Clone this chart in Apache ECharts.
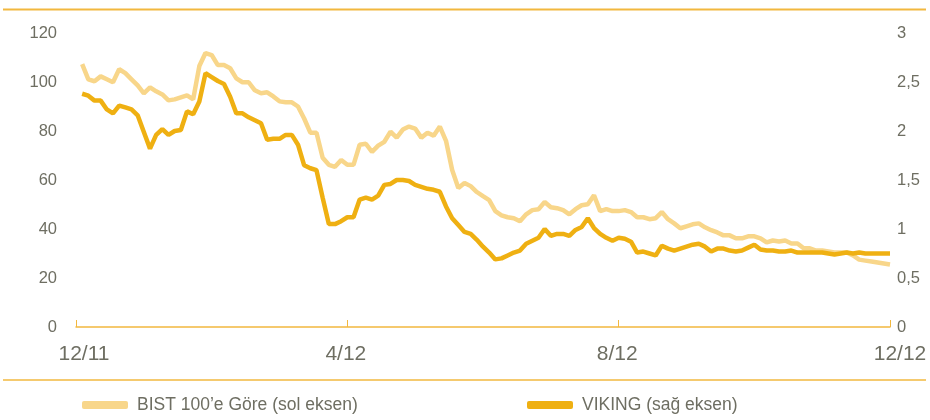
<!DOCTYPE html>
<html>
<head>
<meta charset="utf-8">
<script src="https://cdn.jsdelivr.net/npm/echarts@6/dist/echarts.min.js"></script>
<style>
html,body{margin:0;padding:0;background:#fff;}
#c{width:930px;height:420px;}
</style>
</head>
<body>
<div id="c"></div>
<script>
// Tick labels on the x axis (index in the category list -> label)
const tickIndex = [0, 44, 88, 132];
const tickLabels = ['12/11', '4/12', '8/12', '12/12'];

// BIST 100'e Göre (left axis)
const bist = [null,
107.3,101.1,100.3,102.3,101.1,99.9,105.2,103.6,101.1,98.6,
95.4,97.8,96.2,94.9,92.5,92.9,93.7,94.5,92.9,106.5,
111.8,111.0,106.9,106.9,105.6,101.5,99.9,99.9,96.6,95.4,
95.8,94.1,92.1,91.7,91.7,90.0,85.1,79.3,79.3,69.1,
66.2,65.4,68.2,66.2,66.2,74.4,74.8,71.5,74.0,75.6,
79.7,77.3,80.6,81.8,81.0,77.3,79.3,78.1,81.8,76.0,
64.1,56.7,58.8,57.5,55.1,53.4,51.8,47.3,45.6,44.8,
44.4,43.2,46.0,47.7,48.1,51.0,48.9,48.5,47.7,46.0,
48.1,49.7,50.1,53.8,47.3,48.1,47.3,47.3,47.7,46.9,
44.8,44.8,44.0,44.4,46.9,44.0,42.3,40.3,41.1,41.9,
42.3,40.7,39.5,38.6,37.4,37.4,36.2,36.2,37.0,37.0,
36.2,34.5,35.3,34.9,35.3,34.1,34.1,32.1,32.1,31.2,
31.2,30.8,30.4,30.4,30.4,29.2,27.5,27.1,26.7,26.3,
25.9,25.5];

// VIKING (right axis)
const viking = [null,
2.38,2.36,2.31,2.31,2.22,2.18,2.26,2.24,2.22,2.16,
1.99,1.82,1.96,2.02,1.96,2.00,2.01,2.20,2.17,2.30,
2.59,2.55,2.51,2.48,2.35,2.18,2.18,2.14,2.11,2.08,
1.91,1.92,1.92,1.96,1.96,1.86,1.65,1.62,1.60,1.32,
1.05,1.05,1.08,1.12,1.12,1.30,1.32,1.30,1.34,1.45,
1.46,1.50,1.50,1.49,1.45,1.43,1.41,1.40,1.38,1.23,
1.11,1.04,0.97,0.95,0.89,0.82,0.76,0.69,0.70,0.73,
0.76,0.78,0.85,0.88,0.91,1.00,0.93,0.95,0.95,0.93,
0.99,1.02,1.11,1.01,0.95,0.91,0.88,0.91,0.90,0.87,
0.76,0.77,0.75,0.73,0.83,0.80,0.78,0.80,0.82,0.84,
0.85,0.82,0.77,0.80,0.80,0.78,0.77,0.78,0.81,0.84,
0.79,0.78,0.78,0.77,0.77,0.78,0.76,0.76,0.76,0.76,
0.76,0.75,0.74,0.75,0.76,0.75,0.76,0.75,0.75,0.75,
0.75,0.75];

const seriesNames = ['BIST 100\u2019e Göre (sol eksen)', 'VIKING (sağ eksen)'];

const categories = bist.map((_, i) => String(i));
const gold = '#F2B83F';
const txt = '#6e6e62';
const font = '"Liberation Sans", Arial, sans-serif';
const xLab = {color: txt, fontSize: 21, fontFamily: font};

const chart = echarts.init(document.getElementById('c'), null, {renderer: 'canvas'});
chart.setOption({
  animation: false,
  backgroundColor: '#fff',
  textStyle: {fontFamily: font},
  grid: {left: 76, right: 40, top: 33, bottom: 93, containLabel: false},
  legend: [
    {data: [seriesNames[0]], left: 77, top: 391, icon: 'roundRect', itemWidth: 46, itemHeight: 8,
     textStyle: {color: txt, fontSize: 17.5, fontFamily: font, padding: [0, 0, 0, 4]}},
    {data: [seriesNames[1]], left: 522, top: 391, icon: 'roundRect', itemWidth: 46, itemHeight: 8,
     textStyle: {color: txt, fontSize: 17.5, fontFamily: font, padding: [0, 0, 0, 4]}}
  ],
  xAxis: {
    type: 'category',
    data: categories,
    boundaryGap: false,
    offset: 9,
    axisLine: {lineStyle: {color: gold, width: 1.5}},
    axisTick: {show: true, inside: true, length: 7, lineStyle: {color: gold, width: 1},
      interval: (i) => tickIndex.indexOf(i) >= 0},
    axisLabel: {
      interval: (i) => tickIndex.indexOf(i) >= 0,
      formatter: (v, i) => {
        const k = tickIndex.indexOf(i);
        if (k < 0) return '';
        if (k === 0) return '{f|' + tickLabels[k] + '}';
        if (k === tickLabels.length - 1) return '{l|' + tickLabels[k] + '}';
        return '{n|' + tickLabels[k] + '}';
      },
      rich: {
        f: Object.assign({padding: [0, 0, 0, 16]}, xLab),
        l: Object.assign({padding: [0, 0, 0, 20]}, xLab),
        n: Object.assign({padding: [0, 3, 0, 0]}, xLab)
      },
      color: txt, fontSize: 21, margin: 8, fontFamily: font
    },
    splitLine: {show: false}
  },
  yAxis: [
    {type: 'value', min: 0, max: 120, interval: 20,
     axisLine: {show: false}, axisTick: {show: false}, splitLine: {show: false},
     axisLabel: {color: txt, fontSize: 16.5, margin: 19, fontFamily: font}},
    {type: 'value', min: 0, max: 3, interval: 0.5, position: 'right',
     axisLine: {show: false}, axisTick: {show: false}, splitLine: {show: false},
     axisLabel: {color: txt, fontSize: 16.5, margin: 7, fontFamily: font,
       formatter: (v) => String(v).replace('.', ',')}}
  ],
  series: [
    {name: seriesNames[0], type: 'line', yAxisIndex: 0, data: bist, showSymbol: false, symbol: 'none',
     lineStyle: {color: '#F8D68A', width: 4.5}, itemStyle: {color: '#F8D68A'}},
    {name: seriesNames[1], type: 'line', yAxisIndex: 1, data: viking, showSymbol: false, symbol: 'none',
     lineStyle: {color: '#EFB012', width: 4.5}, itemStyle: {color: '#EFB012'}}
  ],
  graphic: [
    {type: 'line', shape: {x1: 3, y1: 9.5, x2: 926, y2: 9.5}, style: {stroke: gold, lineWidth: 2}},
    {type: 'line', shape: {x1: 3, y1: 380, x2: 926, y2: 380}, style: {stroke: gold, lineWidth: 1.5}}
  ]
});
</script>
</body>
</html>
